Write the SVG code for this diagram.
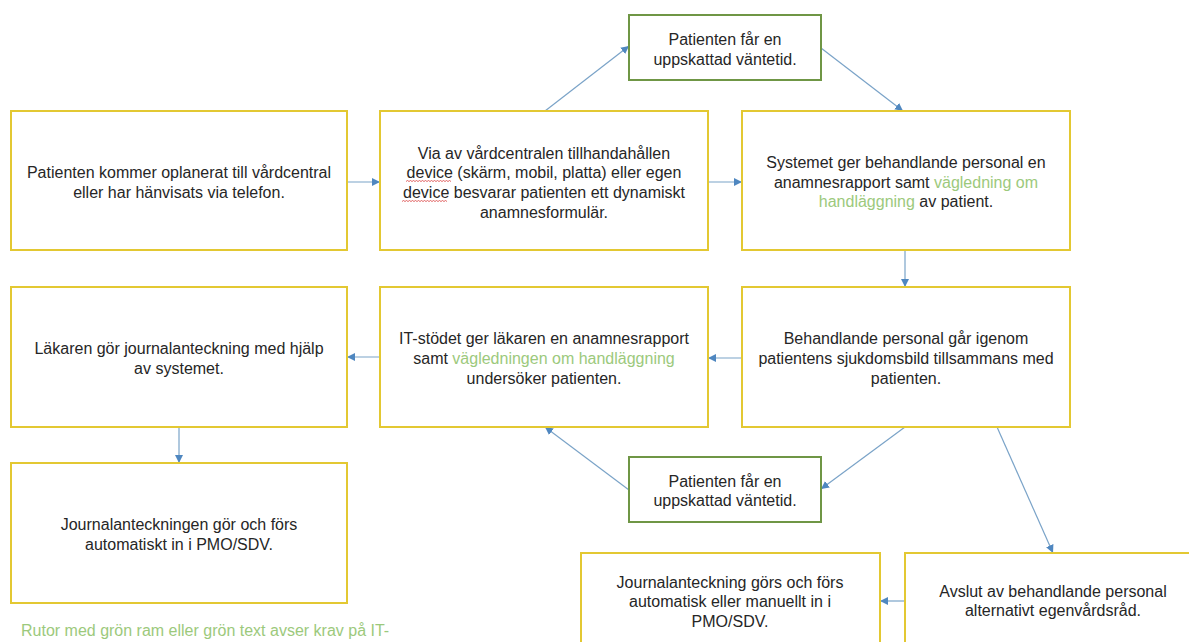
<svg xmlns="http://www.w3.org/2000/svg" width="1189" height="642" viewBox="0 0 1189 642">
<defs>
<style>
.box{fill:#fff;stroke:#e3c832;stroke-width:2}
.gbox{fill:#fff;stroke:#6f9645;stroke-width:2}
.t{font-family:"Liberation Sans",Arial,sans-serif;font-size:16px;fill:#262626;text-anchor:middle}
.g{fill:#9cc97c}
.leg{font-family:"Liberation Sans",Arial,sans-serif;font-size:16px;fill:#9cc97c}
.c{stroke:#7aa3c8;stroke-width:1.2;fill:none;marker-end:url(#ah)}
.sq{stroke:#d94040;stroke-width:0.8;fill:none}
</style>
<marker id="ah" viewBox="0 0 10 10" refX="10" refY="5" markerWidth="8" markerHeight="8" orient="auto" markerUnits="userSpaceOnUse">
<path d="M0,0 L10,5 L0,10 z" fill="#4f87c0"/>
</marker>
</defs>
<rect width="1189" height="642" fill="#fff"/>

<g id="connectors">
<path class="c" d="M347,182 L380,182"/>
<path class="c" d="M708,182 L742,182"/>
<path class="c" d="M545,111 L629,46"/>
<path class="c" d="M821,48 L903,111"/>
<path class="c" d="M905,250 L905,287"/>
<path class="c" d="M742,358 L708,358"/>
<path class="c" d="M380,357 L347,357"/>
<path class="c" d="M179,427 L179,463"/>
<path class="c" d="M905,427 L821,489"/>
<path class="c" d="M629,490 L545,427"/>
<path class="c" d="M997,427 L1053,553"/>
<path class="c" d="M905,601 L880,601"/>
</g>

<g id="n1">
<rect class="box" x="11" y="111" width="336" height="139"/>
<text class="t" x="179" y="178">Patienten kommer oplanerat till vårdcentral</text>
<text class="t" x="179" y="198">eller har hänvisats via telefon.</text>
</g>

<g id="n2">
<rect class="box" x="380" y="111" width="328" height="139"/>
<text class="t" x="544" y="159">Via av vårdcentralen tillhandahållen</text>
<text class="t" x="544" y="178">device (skärm, mobil, platta) eller egen</text>
<text class="t" x="544" y="198">device besvarar patienten ett dynamiskt</text>
<text class="t" x="544" y="218">anamnesformulär.</text>
<path class="sq" d="M406,181.5 l1.5,-1 l1.5,1 l1.5,-1 l1.5,1 l1.5,-1 l1.5,1 l1.5,-1 l1.5,1 l1.5,-1 l1.5,1 l1.5,-1 l1.5,1 l1.5,-1 l1.5,1 l1.5,-1 l1.5,1 l1.5,-1 l1.5,1 l1.5,-1 l1.5,1 l1.5,-1 l1.5,1 l1.5,-1 l1.5,1 l1.5,-1 l1.5,1 l1.5,-1 l1.5,1 l1.5,-1 l1.5,1"/>
<path class="sq" d="M402,201.5 l1.5,-1 l1.5,1 l1.5,-1 l1.5,1 l1.5,-1 l1.5,1 l1.5,-1 l1.5,1 l1.5,-1 l1.5,1 l1.5,-1 l1.5,1 l1.5,-1 l1.5,1 l1.5,-1 l1.5,1 l1.5,-1 l1.5,1 l1.5,-1 l1.5,1 l1.5,-1 l1.5,1 l1.5,-1 l1.5,1 l1.5,-1 l1.5,1 l1.5,-1 l1.5,1 l1.5,-1 l1.5,1"/>
</g>

<g id="n3">
<rect class="gbox" x="629" y="15" width="192" height="65"/>
<text class="t" x="725" y="45">Patienten får en</text>
<text class="t" x="725" y="65">uppskattad väntetid.</text>
</g>

<g id="n4">
<rect class="box" x="742" y="111" width="328" height="139"/>
<text class="t" x="906" y="168">Systemet ger behandlande personal en</text>
<text class="t" x="906" y="188">anamnesrapport samt <tspan class="g">vägledning om</tspan></text>
<text class="t" x="906" y="207"><tspan class="g">handläggning</tspan> av patient.</text>
</g>

<g id="n5">
<rect class="box" x="742" y="287" width="328" height="140"/>
<text class="t" x="906" y="344">Behandlande personal går igenom</text>
<text class="t" x="906" y="364">patientens sjukdomsbild tillsammans med</text>
<text class="t" x="906" y="384">patienten.</text>
</g>

<g id="n6">
<rect class="box" x="380" y="287" width="328" height="140"/>
<text class="t" x="544" y="344">IT-stödet ger läkaren en anamnesrapport</text>
<text class="t" x="544" y="364">samt <tspan class="g">vägledningen om handläggning</tspan></text>
<text class="t" x="544" y="384">undersöker patienten.</text>
</g>

<g id="n7">
<rect class="box" x="11" y="287" width="336" height="140"/>
<text class="t" x="179" y="354">Läkaren gör journalanteckning med hjälp</text>
<text class="t" x="179" y="374">av systemet.</text>
</g>

<g id="n8">
<rect class="box" x="11" y="463" width="336" height="140"/>
<text class="t" x="179" y="530">Journalanteckningen gör och förs</text>
<text class="t" x="179" y="550">automatiskt in i PMO/SDV.</text>
</g>

<g id="n9">
<rect class="gbox" x="629" y="457" width="192" height="65"/>
<text class="t" x="725" y="487">Patienten får en</text>
<text class="t" x="725" y="506">uppskattad väntetid.</text>
</g>

<g id="n10">
<rect class="box" x="581" y="553" width="299" height="110"/>
<text class="t" x="730" y="588">Journalanteckning görs och förs</text>
<text class="t" x="730" y="607">automatisk eller manuellt in i</text>
<text class="t" x="730" y="627">PMO/SDV.</text>
</g>

<g id="n11">
<rect class="box" x="905" y="553" width="297" height="110"/>
<text class="t" x="1053" y="597">Avslut av behandlande personal</text>
<text class="t" x="1053" y="616">alternativt egenvårdsråd.</text>
</g>

<g id="legend">
<text class="leg" x="21" y="636">Rutor med grön ram eller grön text avser krav på IT-</text>
</g>
</svg>
